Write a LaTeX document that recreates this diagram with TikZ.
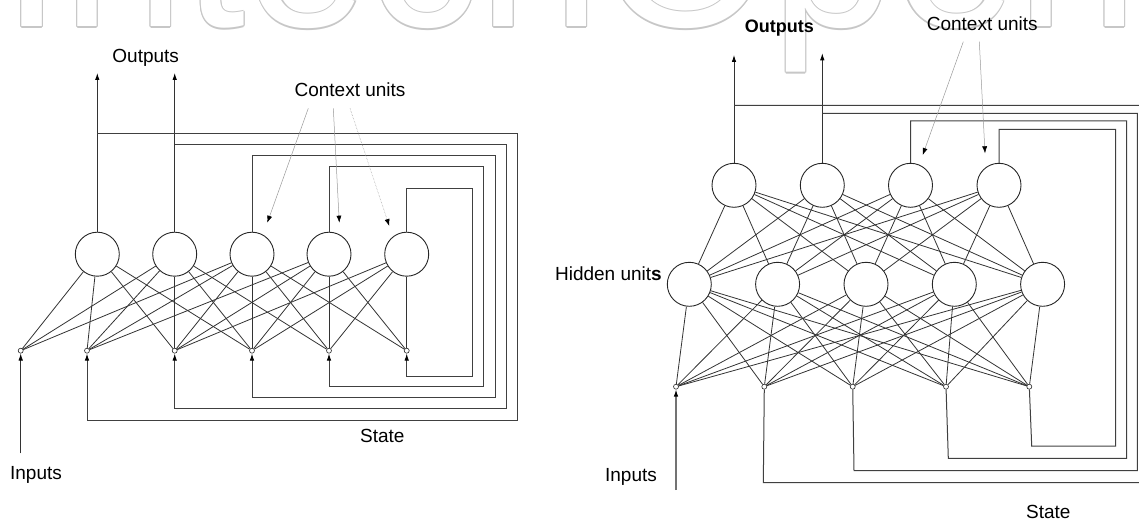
\documentclass[tikz,border=0pt]{standalone}
\usepackage{fontspec}
\setmainfont{Liberation Sans}
\usetikzlibrary{arrows.meta}
\newcommand{\wmc}[2]{\rlap{\kern#1\raisebox{#2}{\textcolor{black!22}{IntechOpen}}}}
\begin{document}
\begin{tikzpicture}[x=1pt,y=-1pt,
  hid/.style={circle,draw=black!85,line width=0.9pt,minimum size=44pt,inner sep=0pt},
  inp/.style={circle,draw=black!85,line width=0.6pt,minimum size=5pt,inner sep=0pt,fill=white},
  conn/.style={draw=black!80,line width=0.8pt},
  fb/.style={draw=black!75,line width=1pt},
  arr/.style={-{Latex[length=7pt,width=4.5pt,black]}},
  ctx/.style={draw=black!40,line width=0.5pt,-{Latex[length=7pt,width=5pt,black]}},
  lbl/.style={font=\fontsize{19}{22}\selectfont,inner sep=0pt},
  wm/.style={font=\fontsize{220}{220}\selectfont,inner sep=0pt,anchor=base}
]
\useasboundingbox (0,0) rectangle (1139,521);
% watermark (outlined lettering, cut by the top edge)
\begin{scope}
\clip (0,0) rectangle (1139,521);
\node[wm] (wmark) at (570,27) {\wmc{-1.2pt}{0pt}\wmc{1.2pt}{0pt}\wmc{0pt}{1.2pt}\wmc{0pt}{-1.2pt}\wmc{-0.85pt}{-0.85pt}\wmc{0.85pt}{0.85pt}\wmc{-0.85pt}{0.85pt}\wmc{0.85pt}{-0.85pt}\textcolor{white}{IntechOpen}};
\end{scope}

% ===== LEFT NETWORK =====
\foreach \n/\x in {1/97.3,2/174.7,3/252,4/329,5/406.7}
  \node[hid] (Lh\n) at (\x,254.2) {};
\foreach \n/\x in {1/20.7,2/87,3/174.7,4/252,5/329,6/406.7}
  \node[inp] (Li\n) at (\x,350.7) {};
\foreach \h/\is in {1/{1,2,3,4},2/{1,2,3,4,5},3/{1,2,3,4,5,6},4/{2,3,4,5,6},5/{3,4,5,6}}
  \foreach \i in \is {\draw[conn] (Lh\h) -- (Li\i);}
\coordinate (Lo1) at (97.3,73);
\coordinate (Lo2) at (174.7,73);
\draw[conn,arr] (Lh1) -- (Lo1);
\draw[conn,arr] (Lh2) -- (Lo2);
\coordinate (Lin) at (20.7,453.3);
\draw[conn,arr] (Lin) -- (Li1);
% feedback loops
\draw[fb,arr] (Lh1 |- 0,133.3) -- (517,133.3) -- (517,420) -- (Li2 |- 0,420) -- (Li2);
\draw[fb,arr] (Lh2 |- 0,144.3) -- (506,144.3) -- (506,408.7) -- (Li3 |- 0,408.7) -- (Li3);
\draw[fb,arr] (Lh3.north) -- (Lh3 |- 0,155.3) -- (495,155.3) -- (495,397.7) -- (Li4 |- 0,397.7) -- (Li4);
\draw[fb,arr] (Lh4.north) -- (Lh4 |- 0,166.7) -- (483.7,166.7) -- (483.7,386.7) -- (Li5 |- 0,386.7) -- (Li5);
\draw[fb,arr] (Lh5.north) -- (Lh5 |- 0,188.3) -- (472.7,188.3) -- (472.7,376) -- (Li6 |- 0,376) -- (Li6);
% labels
\node[lbl] (LOut) at (145.7,58.3) {Outputs};
\node[lbl] (LCtx) at (350,90) {Context units};
\node[lbl] (LInp) at (36,475) {Inputs};
\node[lbl] (LSta) at (382.3,435.7) {State};
\coordinate (Lc1) at (267.3,222.7);
\coordinate (Lc2) at (339.3,222.7);
\coordinate (Lc3) at (389.3,226);
\draw[ctx] (308.3,108.3) -- (Lc1);
\draw[ctx] (333.3,108.3) -- (Lc2);
\draw[ctx,densely dotted] (350,108.3) -- (Lc3);

% ===== RIGHT NETWORK =====
\foreach \n/\x in {1/734,2/822.3,3/910.5,4/999}
  \node[hid] (Ro\n) at (\x,185.3) {};
\foreach \n/\x in {1/689.3,2/777.6,3/866,4/954.3,5/1042.6}
  \node[hid] (Rh\n) at (\x,284.3) {};
\foreach \n/\x in {1/676,2/764.3,3/852.7,4/946,5/1029.3}
  \node[inp] (Ri\n) at (\x,386.7) {};
\foreach \o in {1,...,4}
  \foreach \h in {1,...,5} {\draw[conn] (Ro\o) -- (Rh\h);}
\foreach \h in {1,...,5}
  \foreach \i in {1,...,5} {\draw[conn] (Rh\h) -- (Ri\i);}
\coordinate (Rout1) at (734,55);
\coordinate (Rout2) at (822.3,53.3);
\draw[conn,arr] (Ro1) -- (Rout1);
\draw[conn,arr] (Ro2) -- (Rout2);
\coordinate (Rin) at (676,490);
\draw[draw=black!55,line width=1.1pt,arr] (Rin) -- (Ri1);
\draw[fb] (Ro1 |- 0,105.3) -- (1145,105.3) -- (1145,482.7) -- (763.3,482.7) -- (Ri2);
\draw[fb] (Ro2 |- 0,113.3) -- (1137.3,113.3) -- (1137.3,470.7) -- (854,470.7) -- (Ri3);
\draw[fb] (Ro3.north) -- (Ro3 |- 0,121) -- (1126.7,121) -- (1126.7,458.3) -- (948.3,458.3) -- (Ri4);
\draw[fb] (Ro4.north) -- (Ro4 |- 0,129.3) -- (1115.7,129.3) -- (1115.7,446) -- (1031.7,446) -- (Ri5);
% labels
\node[lbl,font=\fontsize{18}{22}\selectfont\bfseries] (ROut) at (779.3,28.3) {Outputs};
\node[lbl] (RCtx) at (982.3,23.3) {Context units};
\node[lbl,anchor=east] (RHid) at (662,273.3) {Hidden unit\textbf{s}};
\node[lbl] (RInp) at (631,476.7) {Inputs};
\node[lbl] (RSta) at (1048.3,511.7) {State};
\coordinate (Rc1) at (922.7,155);
\coordinate (Rc2) at (985,153.3);
\draw[ctx] (963.3,41.7) -- (Rc1);
\draw[ctx] (979.3,41.7) -- (Rc2);
\end{tikzpicture}
\end{document}
